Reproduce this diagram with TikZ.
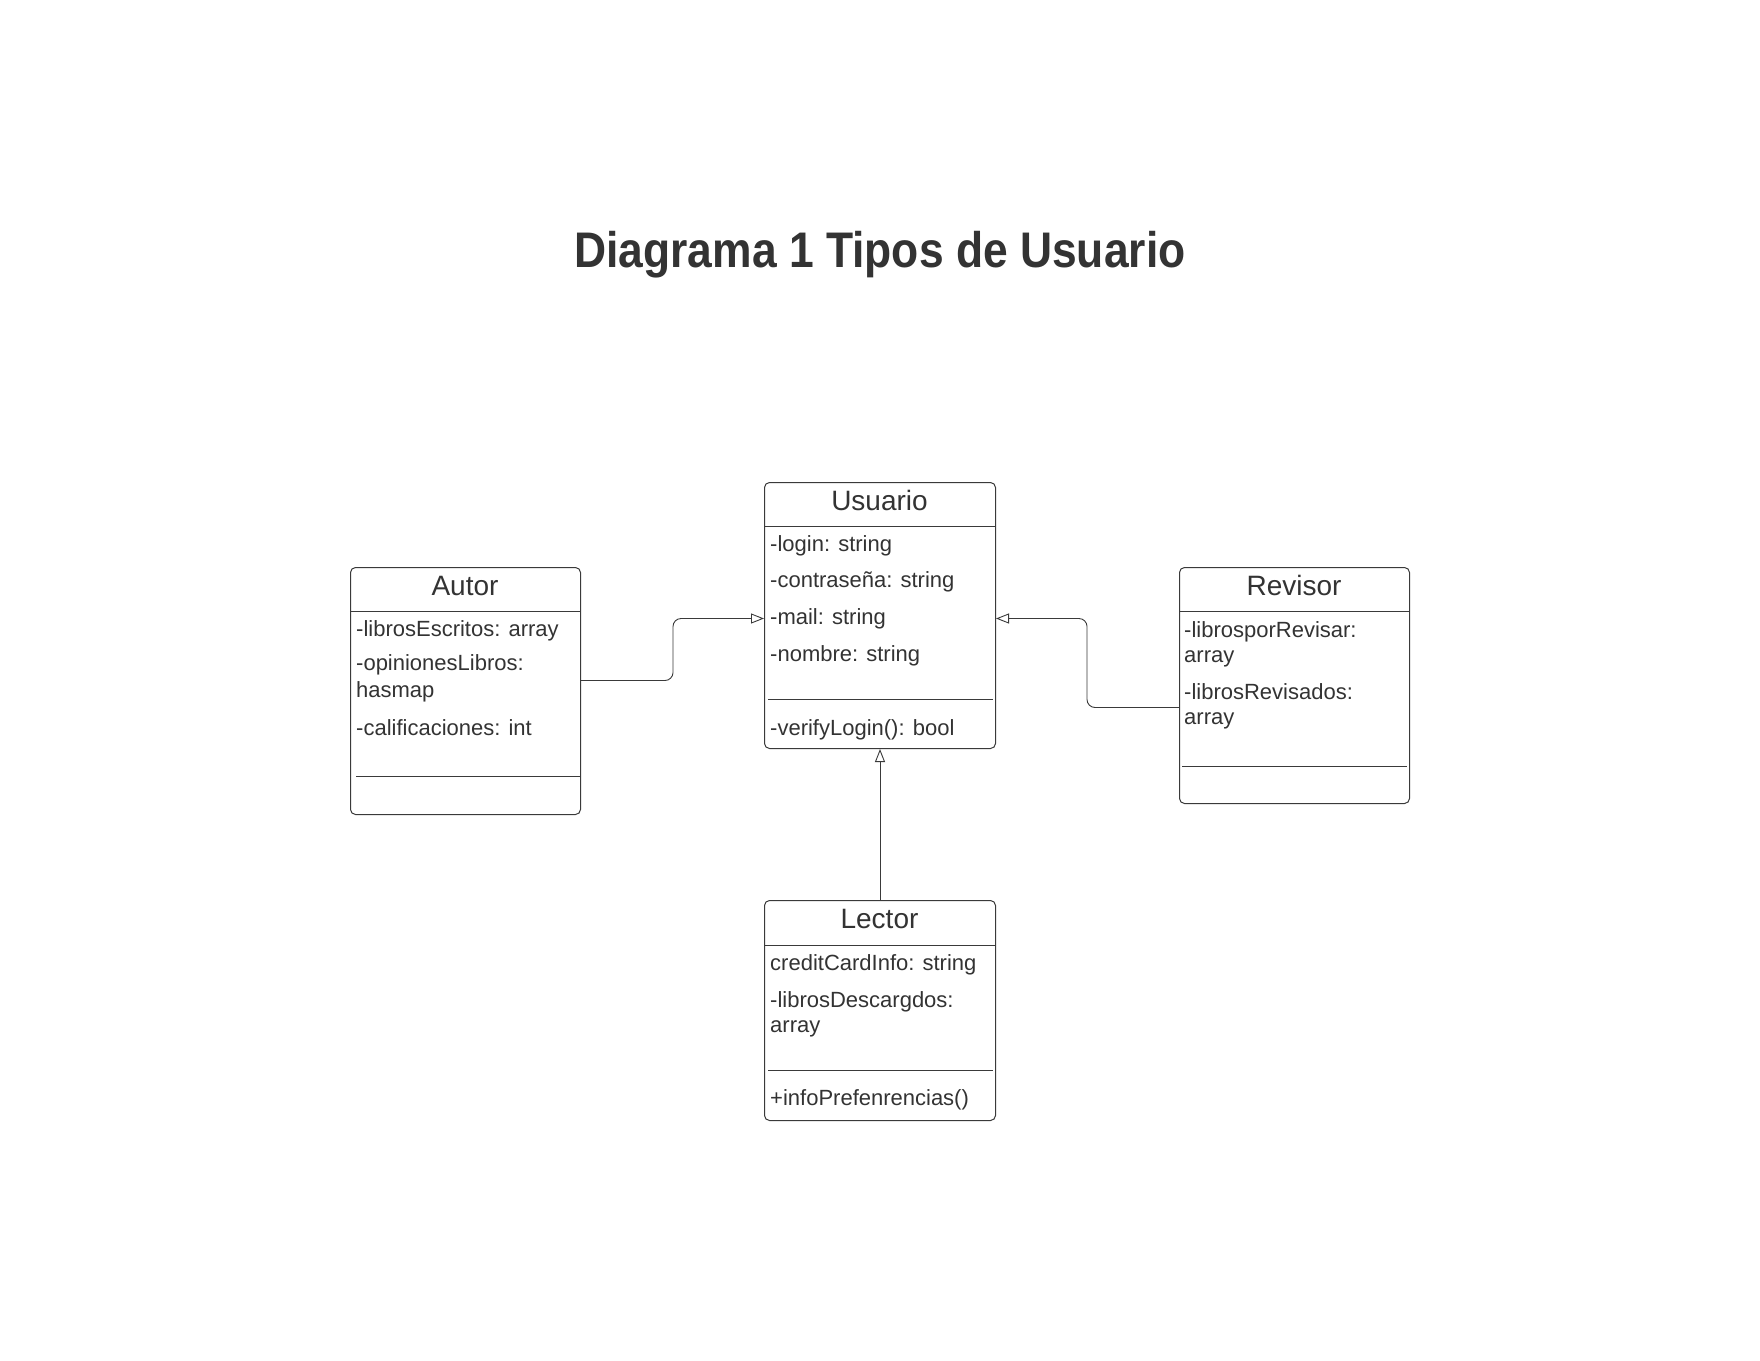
\documentclass[tikz,border=0pt]{standalone}
\usepackage{fontspec}
\setmainfont{Liberation Sans}
\usetikzlibrary{arrows.meta}
\definecolor{ink}{HTML}{333333}
\definecolor{edge}{HTML}{3A3A3A}
\begin{document}
\begin{tikzpicture}[x=1pt,y=-1pt,
  cls/.style={draw=edge, line width=1pt, rounded corners=5pt, anchor=north west, inner sep=0pt},
  rule/.style={draw=edge, line width=1pt},
  txt/.style={text=ink, anchor=base west, inner sep=0pt, font=\fontsize{22}{25}\selectfont},
  ttl/.style={text=ink, anchor=base, inner sep=0pt, font=\fontsize{28}{32}\selectfont},
  gen/.style={draw=edge, line width=0.9pt, rounded corners=8pt, -{Triangle[open, length=13pt, width=10pt]}}]
\fill[white] (0,0) rectangle (1760,1360);
\useasboundingbox (0,0) rectangle (1760,1360);

\node[text=ink, anchor=base, inner sep=0pt, font=\fontsize{50}{56}\selectfont\bfseries] (title) at (880,267) {\scalebox{0.888}[1]{Diagrama 1 Tipos de Usuario}};

% Usuario
\node[cls, minimum width=231pt, minimum height=266pt] (usuario) at (764,482) {};
\node[ttl] (usuarioT) at (879.5,510) {Usuario};
\draw[rule] (764,526) -- (995,526);
\node[txt] (u1) at (770,551) {-login: string};
\node[txt] (u2) at (770,587) {-contraseña: string};
\node[txt] (u3) at (770,624) {-mail: string};
\node[txt] (u4) at (770,661) {-nombre: string};
\draw[rule] (768,699) -- (993,699);
\node[txt] (u5) at (770,735) {-verifyLogin(): bool};

% Autor
\node[cls, minimum width=230pt, minimum height=247pt] (autor) at (350,567) {};
\node[ttl] (autorT) at (465,595) {Autor};
\draw[rule] (350,611) -- (580,611);
\node[txt] (a1) at (356,636) {-librosEscritos: array};
\node[txt] (a2) at (356,670) {-opinionesLibros:};
\node[txt] (a3) at (356,697) {hasmap};
\node[txt] (a4) at (356,735) {-calificaciones: int};
\draw[rule] (356,776) -- (580,776);

% Revisor
\node[cls, minimum width=230pt, minimum height=236pt] (revisor) at (1179,567) {};
\node[ttl] (revisorT) at (1294,595) {Revisor};
\draw[rule] (1179,611) -- (1409,611);
\node[txt] (r1) at (1184,637) {-librosporRevisar:};
\node[txt] (r2) at (1184,662) {array};
\node[txt] (r3) at (1184,699) {-librosRevisados:};
\node[txt] (r4) at (1184,724) {array};
\draw[rule] (1182,766) -- (1407,766);

% Lector
\node[cls, minimum width=231pt, minimum height=220pt] (lector) at (764,900) {};
\node[ttl] (lectorT) at (879.5,928) {Lector};
\draw[rule] (764,945) -- (995,945);
\node[txt] (l1) at (770,970) {creditCardInfo: string};
\node[txt] (l2) at (770,1007) {-librosDescargdos:};
\node[txt] (l3) at (770,1032) {array};
\draw[rule] (768,1070) -- (993,1070);
\node[txt] (l4) at (770,1105) {+infoPrefenrencias()};

% connectors
\draw[gen] ([yshift=10.5pt]autor.east) -- ++(92,0) |- ([yshift=-3pt]usuario.west);
\draw[gen] ([yshift=-22pt]revisor.west) -- ++(-92,0) |- ([yshift=-3pt]usuario.east);
\draw[gen] (lector.north) -- (usuario.south);
\end{tikzpicture}
\end{document}
